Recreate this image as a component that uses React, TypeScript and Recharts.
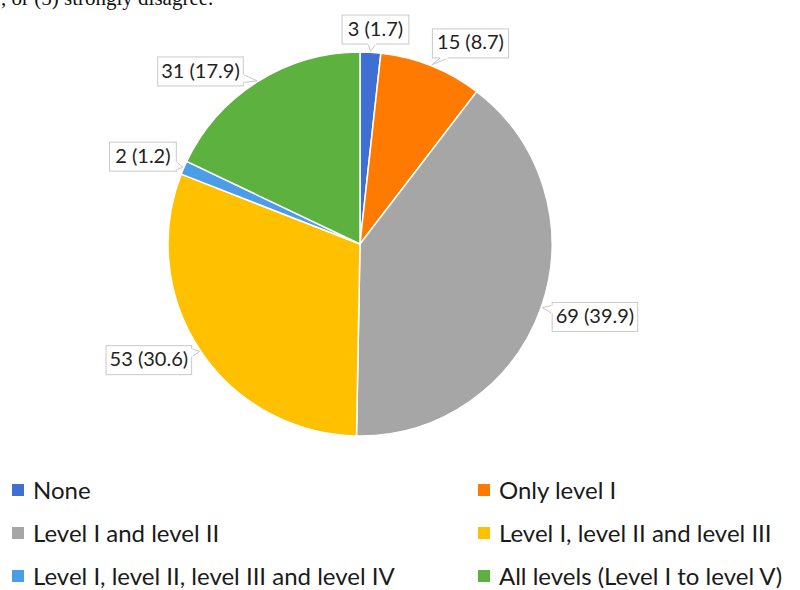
import React from "react";
import { PieChart, Pie, Cell, Legend } from "recharts";

const categories = [
  "None",
  "Only level I",
  "Level I and level II",
  "Level I, level II and level III",
  "Level I, level II, level III and level IV",
  "All levels (Level I to level V)",
];
const counts = [3, 15, 69, 53, 2, 31];
const percents = [1.7, 8.7, 39.9, 30.6, 1.2, 17.9];
const colors = ["#3F6FD3", "#FF7A00", "#A6A6A6", "#FFC000", "#4A9DE6", "#5DB13F"];

const data = categories.map((name, i) => ({
  name,
  value: counts[i],
  pct: percents[i],
}));

const RAD = Math.PI / 180;
// label placement tweaks (clockwise degrees, extra radius)
const nudge = [
  { da: 1, dr: 23 },
  { da: 7, dr: 37 },
  { da: -2, dr: 54 },
  { da: 5, dr: 49 },
  { da: -1.5, dr: 42 },
  { da: -10.5, dr: 43 },
];

const clamp = (v: number, a: number, b: number) => Math.max(a, Math.min(b, v));

const renderLabel = (props: any) => {
  const { cx, cy, midAngle, outerRadius, index } = props;
  const d = data[index];
  const text = `${d.value} (${d.pct})`;
  const n = nudge[index];
  const a = (midAngle - n.da) * RAD;
  const r = outerRadius + n.dr;
  const lx = cx + r * Math.cos(a);
  const ly = cy - r * Math.sin(a);
  const tx = cx + (outerRadius + 1) * Math.cos(midAngle * RAD);
  const ty = cy - (outerRadius + 1) * Math.sin(midAngle * RAD);
  const w = text.length * 9.4 + 1;
  const h = 29;
  const dx = tx - lx;
  const dy = ty - ly;
  let b1: number[];
  let b2: number[];
  if (Math.abs(dx) * h > Math.abs(dy) * w) {
    const sx = lx + Math.sign(dx) * (w / 2);
    const py = clamp(ly + (dy * (w / 2)) / Math.abs(dx), ly - h / 2 + 5, ly + h / 2 - 5);
    b1 = [sx, py - 4];
    b2 = [sx, py + 4];
  } else {
    const sy = ly + Math.sign(dy) * (h / 2);
    const px = clamp(lx + (dx * (h / 2)) / Math.abs(dy), lx - w / 2 + 5, lx + w / 2 - 5);
    b1 = [px - 4, sy];
    b2 = [px + 4, sy];
  }
  return (
    <g key={`lbl-${index}`}>
      <rect x={lx - w / 2} y={ly - h / 2} width={w} height={h} fill="#fff" stroke="#c9c9c9" strokeWidth={1} />
      <polygon points={`${b1[0]},${b1[1]} ${tx},${ty} ${b2[0]},${b2[1]}`} fill="#fff" stroke="#c9c9c9" strokeWidth={1} />
      <line x1={b1[0]} y1={b1[1]} x2={b2[0]} y2={b2[1]} stroke="#fff" strokeWidth={2} />
      <text x={lx} y={ly + 1} textAnchor="middle" dominantBaseline="middle" fontFamily="Lato" fontSize={20} fill="#222">
        {text}
      </text>
    </g>
  );
};

const renderLegend = () => (
  <div
    style={{
      display: "grid",
      gridTemplateColumns: "466px 334px",
      rowGap: 17,
      fontFamily: "Lato",
      fontSize: 24,
      lineHeight: 1,
      color: "#1a1a1a",
    }}
  >
    {categories.map((c, i) => (
      <div key={c} style={{ display: "flex", alignItems: "center", height: 26, paddingLeft: 12, whiteSpace: "nowrap" }}>
        <span style={{ width: 12, height: 12, background: colors[i], marginRight: 9, display: "inline-block", flex: "none" }} />
        <span>{c}</span>
      </div>
    ))}
  </div>
);

export default function App() {
  return (
    <div style={{ position: "absolute", left: 0, top: 0, width: 800, height: 590, background: "#fff", overflow: "hidden" }}>
      <PieChart width={800} height={590} margin={{ top: 0, right: 0, bottom: 0, left: 0 }}>
        <text x={1} y={5} fontFamily="Liberation Serif" fontSize={21} fill="#111">
          , or (5) strongly disagree.
        </text>
        <Pie
          data={data}
          dataKey="value"
          nameKey="name"
          cx={360}
          cy={244}
          outerRadius={192}
          startAngle={90}
          endAngle={-270}
          stroke="#fff"
          strokeWidth={1.5}
          label={renderLabel}
          labelLine={false}
          isAnimationActive={false}
        >
          {data.map((d, i) => (
            <Cell key={d.name} fill={colors[i]} />
          ))}
        </Pie>
        <Legend
          content={renderLegend}
          wrapperStyle={{ position: "absolute", left: 0, top: 477, width: 800 }}
        />
      </PieChart>
    </div>
  );
}
